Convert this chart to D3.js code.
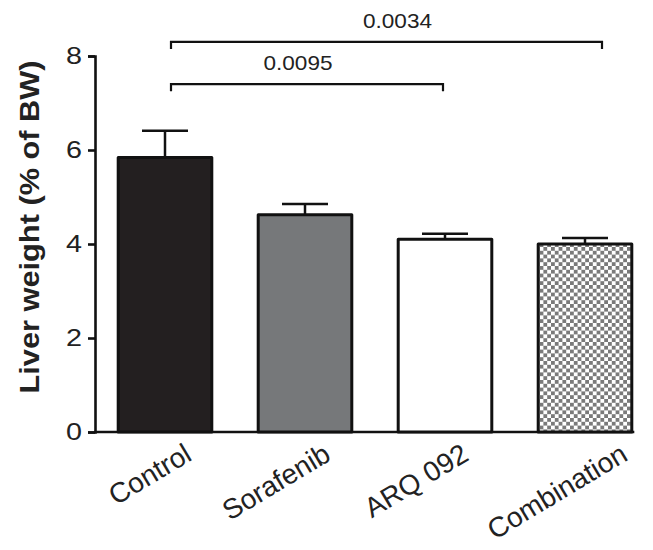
<!DOCTYPE html>
<html>
<head>
<meta charset="utf-8">
<script src="https://cdn.jsdelivr.net/npm/d3@7"></script>
<style>
  body { margin: 0; background: #fff; }
  text { font-family: "Liberation Sans", Arial, sans-serif; fill: #222; }
</style>
</head>
<body>
<script>
// liver weight per group, mean and upper error bar
var groups = ["Control", "Sorafenib", "ARQ 092", "Combination"];
var means = [5.84, 4.62, 4.10, 4.0];
var errTops = [6.41, 4.85, 4.22, 4.13];
var fills = ["#231f20", "#76787a", "#ffffff", "url(#checker)"];
var yTicks = [0, 2, 4, 6, 8];
var brackets = [
  { from: "Control", to: "ARQ 092", label: "0.0095", level: 7.4 },
  { from: "Control", to: "Combination", label: "0.0034", level: 8.3 }
];

var width = 653, height = 550;

var svg = d3.select("body").append("svg")
  .attr("width", width)
  .attr("height", height);

var defs = svg.append("defs");
var pat = defs.append("pattern")
  .attr("id", "checker")
  .attr("patternUnits", "userSpaceOnUse")
  .attr("width", 7.6).attr("height", 7.6);
pat.append("rect").attr("width", 7.6).attr("height", 7.6).attr("fill", "#fff");
pat.append("rect").attr("width", 3.8).attr("height", 3.8).attr("fill", "#7a7a7a");
pat.append("rect").attr("x", 3.8).attr("y", 3.8).attr("width", 3.8).attr("height", 3.8).attr("fill", "#7a7a7a");

var y = d3.scaleLinear()
  .domain([0, 8])
  .range([432, 56]);

var x = d3.scaleBand()
  .domain(groups)
  .range([95, 655])
  .paddingInner(0.31)
  .paddingOuter(0.155);

var bw = x.bandwidth();

// y axis
var yAxis = d3.axisLeft(y).tickValues(yTicks).tickSize(7).tickPadding(6);
var gy = svg.append("g").attr("transform", "translate(95,0)").call(yAxis);
gy.select(".domain").attr("stroke", "#111").attr("stroke-width", 2.6);
gy.selectAll(".tick line").attr("stroke", "#111").attr("stroke-width", 2.6);
gy.selectAll(".tick text")
  .style("font-size", "24px")
  .attr("fill", "#222")
  .attr("textLength", 16)
  .attr("lengthAdjust", "spacingAndGlyphs");

// x axis baseline
svg.append("line")
  .attr("x1", 94).attr("x2", x(groups[3]) + bw + 1)
  .attr("y1", y(0)).attr("y2", y(0))
  .attr("stroke", "#111").attr("stroke-width", 2.6);

// error bars
var errG = svg.append("g");
groups.forEach(function(g, i){
  var cx = x(g) + bw / 2;
  errG.append("line")
    .attr("x1", cx).attr("x2", cx)
    .attr("y1", y(means[i])).attr("y2", y(errTops[i]))
    .attr("stroke", "#111").attr("stroke-width", 2.5);
  errG.append("line")
    .attr("x1", cx - 23).attr("x2", cx + 23)
    .attr("y1", y(errTops[i])).attr("y2", y(errTops[i]))
    .attr("stroke", "#111").attr("stroke-width", 2.5);
});

// bars
svg.selectAll(".bar")
  .data(groups)
  .enter().append("rect")
  .attr("class", "bar")
  .attr("x", function(d){ return x(d) + 1.5; })
  .attr("y", function(d, i){ return y(means[i]); })
  .attr("width", bw - 3)
  .attr("height", function(d, i){ return y(0) - y(means[i]); })
  .attr("fill", function(d, i){ return fills[i]; })
  .attr("stroke", "#111")
  .attr("stroke-width", 3)
  .attr("stroke-linejoin", "round");

// x labels, rotated, end anchored under each bar
var labNudge = [18, 17, 15, 34];
svg.selectAll(".xlab")
  .data(groups)
  .enter().append("text")
  .attr("class", "xlab")
  .attr("transform", function(d, i){
    return "translate(" + (x(d) + bw / 2 + labNudge[i]) + ",442) rotate(-31)";
  })
  .attr("text-anchor", "end")
  .attr("dy", "0.72em")
  .style("font-size", "28px")
  .text(function(d){ return d; });

// y label
svg.append("text")
  .attr("transform", "translate(39,227) rotate(-90)")
  .attr("text-anchor", "middle")
  .style("font-size", "28px")
  .style("font-weight", "bold")
  .attr("textLength", 333)
  .attr("lengthAdjust", "spacingAndGlyphs")
  .text("Liver weight (% of BW)");

// significance brackets
var nudge = [[6, -2], [6, 17]];
brackets.forEach(function(b, i){
  var x1 = x(b.from) + bw / 2 + nudge[i][0];
  var x2 = x(b.to) + bw / 2 + nudge[i][1];
  var by = y(b.level);
  svg.append("path")
    .attr("d", "M" + x1 + "," + (by + 7) + "V" + by + "H" + x2 + "V" + (by + 7))
    .attr("fill", "none")
    .attr("stroke", "#111")
    .attr("stroke-width", 2.2);
  svg.append("text")
    .attr("x", (x1 + x2) / 2 + (i === 0 ? -9 : 11))
    .attr("y", by - 14)
    .attr("text-anchor", "middle")
    .style("font-size", "21px")
    .attr("textLength", 69)
    .attr("lengthAdjust", "spacingAndGlyphs")
    .text(b.label);
});
</script>
</body>
</html>
